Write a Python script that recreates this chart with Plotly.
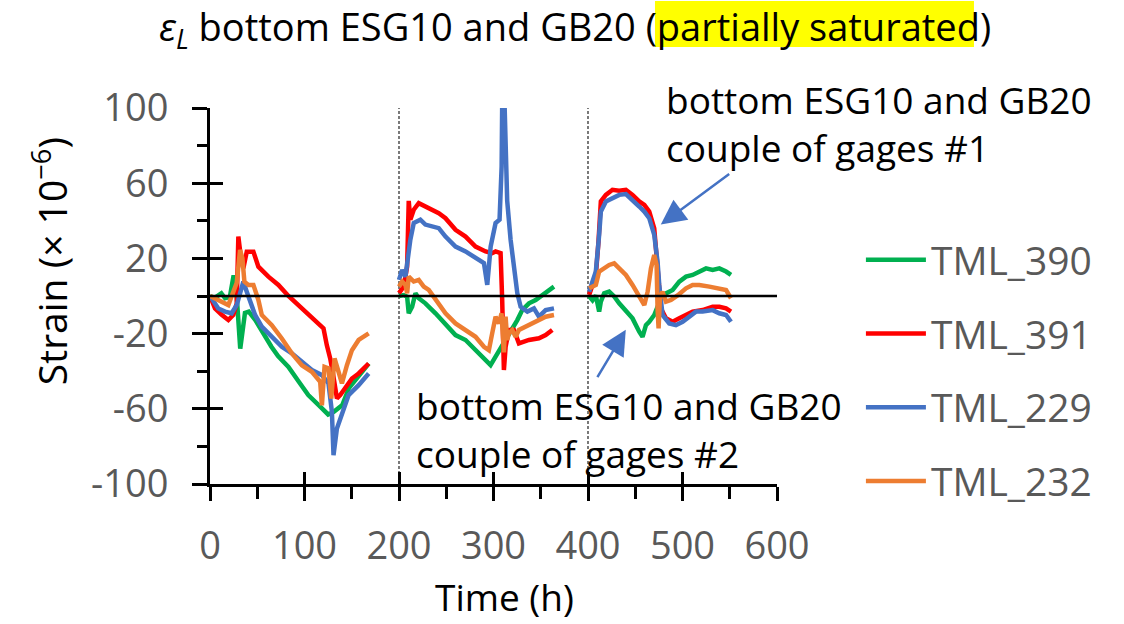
import plotly.graph_objects as go

# ---------------- data ----------------
N = None
t_390 = [0, 5, 12, 16, 21, 25, 28, 32, 37, 41, 48, 55, 65, 72, 83, 94, 104, 115, 125, 131, 135, 140, 147, 157, 168,
         N,
         200, 205, 208.6, 210.3, 213.9, 217.4, 220.9, 227.9, 238.6, 249.2, 259.8, 270.4, 281, 291.6, 296.9, 302.2,
         306.4, 312.8, 319.8, 325.2, 330.4, 337.5, 344.6, 351.6, 358.7, 364,
         N,
         401, 404.8, 408.3, 411.8, 413.6, 417.1, 422.4, 427.7, 433, 440.1, 447.1, 454.2, 457.7, 461.3, 464.8, 470.1,
         473.6, 477.2, 482.5, 489.6, 496.6, 503.7, 510.7, 517.8, 524.9, 531.9, 539, 546.1, 551.3]
s_390 = [0, -1, 1.4, -1.2, -0.5, 11, 2, -28, -9, -8.3, -12.8, -19, -27, -32, -37.7, -45.6, -52.7, -58, -63, -61.6, -60, -58, -49, -43, -36,
         N,
         0, 0.5, -0.4, -9.2, -5.7, 1.5, -1.2, -3.9, -9.2, -14.6, -20.8, -23.4, -28.8, -34.1, -36.8, -32.3,
         -28.8, -23.4, -18.1, -12.8, -7.5, -3.9, -2.1, 0.5, 3.2, 5.0,
         N,
         0, -2.3, 0.3, -8.3, -3.0, 1.4, 2.3, -0.2, -3.9, -8.3, -11.9, -19.0, -21.7, -15.5, -13.7, -10.1,
         -4.8, -1.2, 1.4, 3.2, 7.6, 10.3, 11.2, 13.0, 14.7, 13.9, 14.7, 13.0, 11.2]

t_391 = [0, 5.3, 12.4, 19.4, 24.7, 28.3, 30, 32.8, 35.3, 38.9, 45.9, 51.2, 61.8, 72.4, 83, 93.6, 104.2, 114.8, 120.1,
         123.6, 127.2, 130.7, 134.3, 137.8, 143.1, 150.2, 157.3, 167.9,
         N,
         200, 205, 208.6, 210.3, 212, 215.6, 220.9, 231.5, 242.1, 249.2, 259.8, 270.4, 281, 291.6, 298.6, 302.2,
         307.5, 309.2, 311, 312.8, 316.3, 321.6, 326.9, 337.5, 348.1, 355.2, 362.2,
         N,
         401.2, 404.8, 408.3, 411.1, 413.6, 418.9, 425.9, 433, 440.1, 447.1, 454.2, 459.6, 464.8, 470.1, 472.6,
         474.7, 477.2, 482.5, 489.6, 496.6, 503.7, 510.7, 521.3, 531.9, 539, 546.1, 551.3]
s_391 = [0, -6.6, -10, -12.8, -10, -4, 31.6, 20, 14.7, 23.6, 23.6, 15.6, 10.3, 5.9, 0, -4.8, -9.2, -14.6, -17.2,
         -26.1, -33.2, -43, -54.5, -52.7, -49.2, -43.9, -41.2, -35.9,
         N,
         1.5, 5, 15.7, 50.6, 40.6, 45.9, 49.4, 46.7, 44.0, 41.4, 35.2, 31.6, 26.3, 23.7, 22.8, 23.7,
         22.8, -2.1, -39.4, -27, -18.1, -18.1, -25.2, -23.4, -22.5, -20.8, -18.1,
         N,
         0.5, 5.9, 11.2, 28.9, 50.3, 53.8, 56.5, 56.0, 56.5, 53.8, 50.3, 48.5, 44.9, 36.0, 20.0,
         5.9, -6.6, -11.9, -13.7, -11.9, -10.1, -8.3, -7.5, -5.7, -5.7, -6.6, -8.3]

t_229 = [0, 8.8, 15.9, 22.9, 28.3, 31.8, 35.3, 38.9, 42.4, 47.7, 54.8, 65.4, 76, 86.6, 97.2, 107.8, 118.4, 125.4,
         129, 130.7, 134.3, 139.6, 146.7, 157.3, 167.9,
         N,
         200, 203.3, 206.8, 212, 215.6, 222.6, 227.9, 235, 242.1, 249.2, 259.8, 270.4, 281, 289.9, 293.4, 297,
         302.2, 306.4, 308.6, 309.2, 311.7, 314.5, 318.1, 321.6, 325.2, 328.7, 335.8, 342.8, 348.1, 355.2, 364,
         N,
         401.2, 404.8, 408.3, 411.8, 413.6, 418.9, 425.9, 433, 440.1, 447.1, 454.2, 459.6, 464.8, 470.1, 473.6,
         475.4, 478.9, 486, 493, 500.1, 507.2, 514.2, 521.3, 531.9, 539, 546.1, 551.3]
s_229 = [0, -6.6, -8.3, -9.2, -4.8, 2.3, 7.6, 2.3, -2.1, -10.1, -16.3, -21.7, -27, -30.5, -35, -39.4, -42.1, -46.5,
         -61.6, -84.7, -70.5, -63.4, -52.7, -47.4, -41.2,
         N,
         8.6, 13.9, 10.3, 29.9, 38.8, 40.6, 38, 37, 36.1, 31.6, 26.3, 23.7, 20.1, 17.5, 5.9, 26.3,
         38.8, 40.6, 68.9, 102, 102, 50.6, 29.9, 13.9, 1.5, -5.7, -8.3, -6.6, -11, -7.5, -6.6,
         N,
         2.3, 7.6, 13, 32.5, 44.9, 50.3, 52, 53.8, 54.2, 51.2, 47.6, 44.9, 41.4, 32.5, 18.3,
         5.9, -10.1, -14.6, -15.5, -13.7, -11, -8.3, -8.3, -7.5, -9.2, -10.1, -13.7]

t_232 = [0, 8.8, 19.4, 24.7, 28.3, 31.8, 34.3, 36.4, 40.7, 45.9, 51.2, 54.8, 65.4, 76, 86.6, 97.2, 107.8, 116.6,
         118.4, 121.2, 125.4, 128.3, 131.8, 136, 139.6, 144.9, 150.2, 157.3, 167.9,
         N,
         200, 203.3, 206.8, 208.6, 210.3, 215.6, 220.9, 226.2, 231.5, 238.6, 249.2, 259.8, 270.4, 281, 289.9, 295.1,
         298.6, 302.2, 305.7, 308.5, 311, 312.8, 314.5, 316.3, 319.8, 323.4, 326.9, 334, 341.1, 348.1, 355.2, 364,
         N,
         401.2, 404.8, 408.3, 411.8, 417.1, 422.4, 427.7, 433, 440.1, 447.1, 454.2, 459.6, 463.1, 466.6, 470.1,
         472.6, 473.6, 474.7, 476.1, 478.9, 482.5, 487.8, 494.8, 503.7, 510.7, 517.8, 528.4, 539, 546.1, 551.3]
s_232 = [0, -2, -4.8, 2.3, 7, 24.5, 20, 7.6, 5.9, 5.9, -2.1, -10.1, -15.5, -22.6, -30.5, -36.8, -40.3, -45.6,
         -58.1, -37.7, -38.5, -54.5, -33.2, -40.3, -46.5, -36.8, -28.8, -23.4, -19.9,
         N,
         5, 7.7, 5.9, 1.5, 10.3, 7.7, 8.6, 5, 3.2, -2.1, -9.2, -14.6, -18.1, -21.7, -27, -28.8,
         -19.9, -11, -14.6, -9.2, -30, -11, -23.4, -19.9, -18.1, -21.7, -18.1, -16.3, -14.6, -12.8, -11, -10.1,
         N,
         4.1, 5, 5.9, 13, 14.7, 16.5, 17.4, 14.7, 11.2, 5.9, 0.3, -4.8, 2.3, 14.7, 21.8,
         16.5, -6.6, -17.2, -1.2, 2.3, -3, -2.1, 0.3, 4.1, 5.9, 5.9, 5, 4.1, 3.2, -1.2]

series_names = ["TML_390", "TML_391", "TML_229", "TML_232"]
series_t = [t_390, t_391, t_229, t_232]
series_s = [s_390, s_391, s_229, s_232]
series_colors = ["#00B050", "#FF0000", "#4472C4", "#ED7D31"]

y_tick_values = [-100, -60, -20, 20, 60, 100]
y_tick_labels = ["-100", "-60", "-20", "20", "60", "100"]

phase_starts = [200, 400]        # dashed separators between test phases (h)
baseline = 0                      # horizontal reference line (strain)

# annotation arrow targets (data coordinates)
note1_head, note1_tail = (477, 38), (551, 65.5)
note2_head, note2_tail = (440, -18), (409, -44)

FONT = "Open Sans"
FS = 37
GREY = "#595959"

fig = go.Figure()
for name, t, s, c in zip(series_names, series_t, series_s, series_colors):
    fig.add_trace(go.Scatter(x=t, y=s, mode="lines", name=name, legendgroup=name,
                             line=dict(color=c, width=4.5), connectgaps=False))

# empty trace that carries the overlay axes used for the inner half of the major ticks
fig.add_trace(go.Scatter(x=[], y=[], xaxis="x2", yaxis="y2", showlegend=False, hoverinfo="skip"))

shapes = []
for p in phase_starts:
    shapes.append(dict(type="line", xref="x", yref="y domain", x0=p, x1=p, y0=0, y1=1,
                       line=dict(color="#333333", width=1.3, dash="3px,2px"), layer="below"))
shapes.append(dict(type="line", xref="x domain", yref="y", x0=0, x1=1, y0=baseline, y1=baseline,
                   line=dict(color="black", width=2.5), layer="above"))
# yellow highlight behind "partially saturated"
shapes.append(dict(type="rect", xref="paper", yref="paper", x0=0.7848, x1=1.3474, y0=1.1622, y1=1.2846,
                   fillcolor="#FFFF00", line=dict(width=0), layer="below"))

annotations = [
    dict(text="Strain (× 10<sup>−6</sup>)", xref="paper", yref="paper", x=-0.282, y=0.593,
         textangle=-90, showarrow=False, xanchor="center", yanchor="middle",
         font=dict(family=FONT, size=39, color="black")),
    dict(text="Time (h)", xref="paper", yref="paper", x=0.52, y=-0.2979, showarrow=False,
         xanchor="center", yanchor="middle", font=dict(family=FONT, size=37, color="black")),
    dict(text="bottom ESG10 and GB20<br>couple of gages #1", xref="paper", yref="paper",
         x=0.8007, y=0.958, showarrow=False, xanchor="left", yanchor="middle", align="left",
         font=dict(family=FONT, size=FS, color="black")),
    dict(text="bottom ESG10 and GB20<br>couple of gages #2", xref="paper", yref="paper",
         x=0.3598, y=0.145, showarrow=False, xanchor="left", yanchor="middle", align="left",
         font=dict(family=FONT, size=FS, color="black")),
    dict(text="", x=note1_head[0], y=note1_head[1], ax=note1_tail[0], ay=note1_tail[1],
         xref="x", yref="y", axref="x", ayref="y", showarrow=True, arrowhead=2, arrowsize=2,
         arrowwidth=2.5, arrowcolor="#4472C4"),
    dict(text="", x=note2_head[0], y=note2_head[1], ax=note2_tail[0], ay=note2_tail[1],
         xref="x", yref="y", axref="x", ayref="y", showarrow=True, arrowhead=2, arrowsize=2,
         arrowwidth=2.5, arrowcolor="#4472C4"),
]

tickfont = dict(family=FONT, size=38, color=GREY)
fig.update_layout(
    width=1124, height=624,
    margin=dict(l=210, r=347, t=108, b=140),
    paper_bgcolor="white", plot_bgcolor="white",
    font=dict(family=FONT, size=FS, color="black"),
    title=dict(text="<i>ε</i><sub><i>L</i></sub> bottom ESG10 and GB20 (partially saturated)",
               x=0.5116, xanchor="center", y=0.955, yanchor="middle", yref="container",
               font=dict(family=FONT, size=38, color="black")),
    xaxis=dict(range=[0, 600], tick0=0, dtick=100, showline=True, linewidth=3, linecolor="black",
               ticks="outside", ticklen=14, tickwidth=3, tickcolor="black", tickfont=tickfont,
               ticklabelstandoff=12, showgrid=False, zeroline=False,
               minor=dict(ticks="outside", ticklen=12, tickwidth=3, tickcolor="black",
                          tick0=0, dtick=50, showgrid=False)),
    yaxis=dict(range=[-100, 100], tickmode="array", tickvals=y_tick_values, ticktext=y_tick_labels,
               showline=True, linewidth=3, linecolor="black",
               ticks="outside", ticklen=15, tickwidth=3, tickcolor="black", tickfont=tickfont,
               ticklabelstandoff=16, showgrid=False, zeroline=False,
               minor=dict(ticks="outside", ticklen=10, tickwidth=3, tickcolor="black",
                          tick0=-100, dtick=20, showgrid=False)),
    xaxis2=dict(overlaying="x", anchor="y2", side="bottom", range=[0, 600], tick0=0, dtick=100,
                ticks="inside", ticklen=12, tickwidth=3, tickcolor="black", showticklabels=False,
                showgrid=False, zeroline=False, showline=False),
    yaxis2=dict(overlaying="y", anchor="x2", side="left", range=[-100, 100], tick0=-100, dtick=40,
                ticks="inside", ticklen=13, tickwidth=3, tickcolor="black", showticklabels=False,
                showgrid=False, zeroline=False, showline=False),
    showlegend=True,
    legend=dict(x=1.148, y=0.681, xanchor="left", yanchor="top", bgcolor="rgba(0,0,0,0)",
                font=dict(family=FONT, size=39, color=GREY), tracegroupgap=20, itemwidth=60,
                traceorder="grouped"),
    shapes=shapes,
    annotations=annotations,
)

fig.write_html("out.html")
